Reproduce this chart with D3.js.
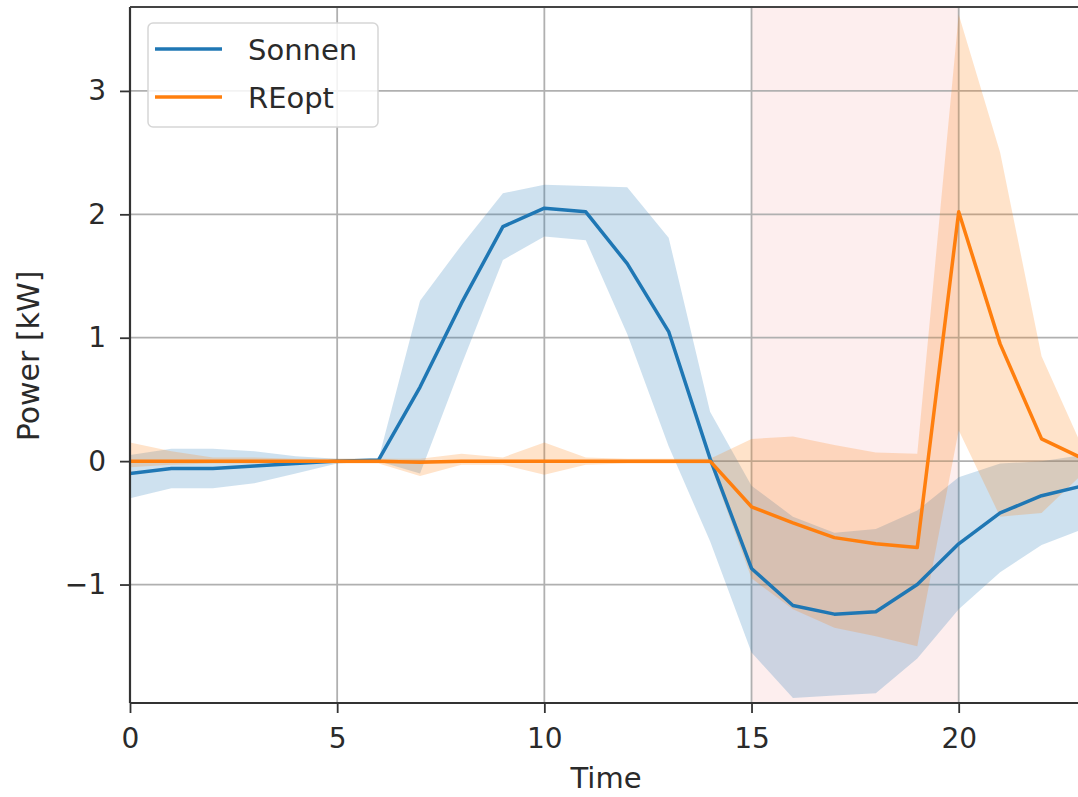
<!DOCTYPE html>
<html>
<head>
<meta charset="utf-8">
<script src="https://cdn.jsdelivr.net/npm/d3@7"></script>
<style>
  html, body { margin: 0; padding: 0; background: #fff; }
  svg { display: block; }
  text { font-family: "DejaVu Sans", sans-serif; fill: #2a2a2a; }
</style>
</head>
<body>
<svg id="chart" width="1078" height="797"></svg>
<script>
// ---- data ----
const hours = [0,1,2,3,4,5,6,7,8,9,10,11,12,13,14,15,16,17,18,19,20,21,22,23];

const sonnenMean  = [-0.10,-0.06,-0.06,-0.04,-0.02,0.00,0.01,0.60,1.28,1.90,2.05,2.02,1.60,1.05,0.02,-0.87,-1.17,-1.24,-1.22,-1.00,-0.67,-0.42,-0.28,-0.20];
const sonnenUpper = [0.05,0.10,0.10,0.08,0.04,0.02,0.02,1.30,1.75,2.17,2.24,2.23,2.22,1.81,0.40,-0.20,-0.45,-0.58,-0.55,-0.40,-0.13,-0.02,0.00,0.05];
const sonnenLower = [-0.30,-0.22,-0.22,-0.18,-0.10,-0.02,0.00,-0.10,0.78,1.63,1.82,1.79,1.03,0.12,-0.65,-1.55,-1.92,-1.90,-1.88,-1.60,-1.20,-0.90,-0.68,-0.55];

const reoptMean  = [0.00,0.00,0.00,0.00,0.00,0.00,0.00,-0.01,0.00,0.00,0.00,0.00,0.00,0.00,0.00,-0.37,-0.50,-0.62,-0.67,-0.70,2.02,0.95,0.18,0.02];
const reoptUpper = [0.15,0.08,0.03,0.03,0.02,0.02,0.02,0.02,0.06,0.03,0.15,0.03,0.02,0.02,0.02,0.18,0.20,0.13,0.07,0.06,3.62,2.50,0.85,0.10];
const reoptLower = [-0.05,-0.03,-0.02,-0.02,-0.02,-0.02,-0.02,-0.12,-0.03,-0.03,-0.11,-0.03,-0.02,-0.02,-0.02,-0.95,-1.20,-1.35,-1.42,-1.50,0.25,-0.45,-0.42,-0.10];

const peakStart = 15, peakEnd = 20;

const xTicks = [0,5,10,15,20];
const yTicks = [-1,0,1,2,3];

const seriesNames = ["Sonnen", "REopt"];
const seriesColors = ["#1f77b4", "#ff7f0e"];

// ---- layout ----
const svg = d3.select("#chart");
const mLeft = 130, mRight = 1083, mTop = 7, mBottom = 703;

const x = d3.scaleLinear().domain([0, 23]).range([mLeft, mRight]);
const y = d3.scaleLinear().domain([-1.96, 3.68]).range([mBottom, mTop]);

svg.append("defs").append("clipPath").attr("id", "plotclip")
  .append("rect").attr("x", mLeft).attr("y", mTop).attr("width", mRight - mLeft).attr("height", mBottom - mTop);

const plot = svg.append("g").attr("clip-path", "url(#plotclip)");

// peak shading
plot.append("rect")
  .attr("x", x(peakStart)).attr("y", mTop)
  .attr("width", x(peakEnd) - x(peakStart)).attr("height", mBottom - mTop)
  .attr("fill", "#fdeeee");

// grid
const grid = plot.append("g");
grid.selectAll("line.gx").data(xTicks).enter().append("line")
  .attr("x1", d => x(d)).attr("x2", d => x(d))
  .attr("y1", mTop).attr("y2", mBottom)
  .attr("stroke", "#b0b0b0").attr("stroke-width", 1.8);
grid.selectAll("line.gy").data(yTicks).enter().append("line")
  .attr("x1", mLeft).attr("x2", mRight)
  .attr("y1", d => y(d)).attr("y2", d => y(d))
  .attr("stroke", "#b0b0b0").attr("stroke-width", 1.8);

// bands
const bandsData = [
  {mean: sonnenMean, upper: sonnenUpper, lower: sonnenLower, color: seriesColors[0]},
  {mean: reoptMean, upper: reoptUpper, lower: reoptLower, color: seriesColors[1]}
];
const area = d3.area()
  .x((d, i) => x(hours[i]))
  .y0(d => y(d[0]))
  .y1(d => y(d[1]));
bandsData.forEach(s => {
  const pts = hours.map((h, i) => [s.lower[i], s.upper[i]]);
  plot.append("path").datum(pts)
    .attr("d", area)
    .attr("fill", s.color).attr("fill-opacity", 0.22);
});

// lines
const line = d3.line().x((d, i) => x(hours[i])).y(d => y(d));
bandsData.forEach(s => {
  plot.append("path").datum(s.mean)
    .attr("d", line)
    .attr("fill", "none")
    .attr("stroke", s.color)
    .attr("stroke-width", 3.5)
    .attr("stroke-linejoin", "round")
    .attr("stroke-linecap", "square");
});

// axes
const xAxis = d3.axisBottom(x).tickValues(xTicks).tickSize(10).tickPadding(15).tickFormat(d3.format("d"));
const yAxis = d3.axisLeft(y).tickValues(yTicks).tickSize(10).tickPadding(14)
  .tickFormat(d => d < 0 ? "\u2212" + Math.abs(d) : String(d));

const gx = svg.append("g").attr("transform", `translate(0,${mBottom})`).call(xAxis);
const gy = svg.append("g").attr("transform", `translate(${mLeft},0)`).call(yAxis);
[gx, gy].forEach(g => {
  g.select(".domain").remove();
  g.selectAll(".tick line").attr("stroke", "#333").attr("stroke-width", 1.8);
  g.selectAll(".tick text").style("font-size", "28px").attr("fill", "#2a2a2a");
});

// spines
svg.append("line").attr("x1", mLeft).attr("x2", mLeft).attr("y1", mTop).attr("y2", mBottom)
  .attr("stroke", "#333").attr("stroke-width", 2.2);
svg.append("line").attr("x1", mLeft).attr("x2", mRight).attr("y1", mBottom).attr("y2", mBottom)
  .attr("stroke", "#333").attr("stroke-width", 2.2);
svg.append("line").attr("x1", mLeft).attr("x2", mRight).attr("y1", mTop).attr("y2", mTop)
  .attr("stroke", "#444").attr("stroke-width", 2.2);

// axis labels
svg.append("text").attr("x", 606).attr("y", 788).attr("text-anchor", "middle")
  .style("font-size", "29px").text("Time");
svg.append("text").attr("transform", "translate(39,356) rotate(-90)").attr("text-anchor", "middle")
  .style("font-size", "30px").text("Power [kW]");

// legend
const lg = svg.append("g");
lg.append("rect").attr("x", 148).attr("y", 23).attr("width", 230).attr("height", 104)
  .attr("rx", 5).attr("fill", "#fff").attr("fill-opacity", 0.85)
  .attr("stroke", "#d6d6d6").attr("stroke-width", 1.5);
seriesNames.forEach((name, i) => {
  const yy = 49 + i * 48;
  lg.append("line").attr("x1", 155).attr("x2", 222).attr("y1", yy).attr("y2", yy)
    .attr("stroke", seriesColors[i]).attr("stroke-width", 3.5);
  lg.append("text").attr("x", 248).attr("y", yy + 11).style("font-size", "29px").text(name);
});
</script>
</body>
</html>
